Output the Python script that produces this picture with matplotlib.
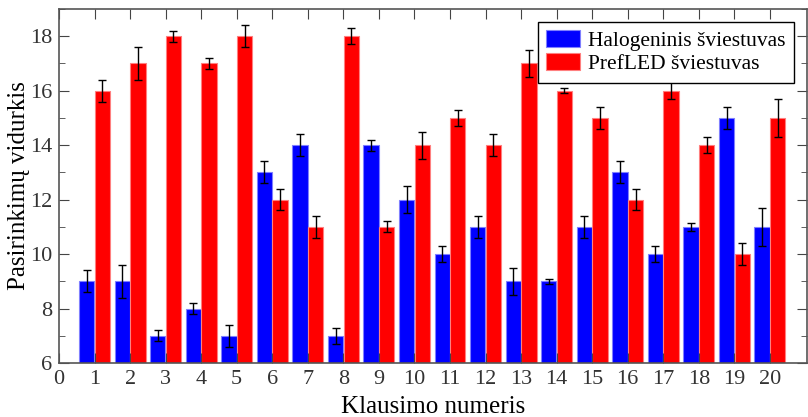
import numpy as np
import matplotlib
matplotlib.use("Agg")
import matplotlib.pyplot as plt
from matplotlib.ticker import MultipleLocator

questions = list(range(1, 21))
halogen = [9, 9, 7, 8, 7, 13, 14, 7, 14, 12, 10, 11, 9, 9, 11, 13, 10, 11, 15, 11]
halogen_err = [0.4, 0.6, 0.2, 0.2, 0.4, 0.4, 0.4, 0.3, 0.2, 0.5,
               0.3, 0.4, 0.5, 0.1, 0.4, 0.4, 0.3, 0.15, 0.4, 0.7]
prefled = [16, 17, 18, 17, 18, 12, 11, 18, 11, 14, 15, 14, 17, 16, 15, 12, 16, 14, 10, 15]
prefled_err = [0.4, 0.6, 0.2, 0.2, 0.4, 0.4, 0.4, 0.3, 0.2, 0.5,
               0.3, 0.4, 0.5, 0.1, 0.4, 0.4, 0.3, 0.3, 0.4, 0.7]

plt.rcParams["font.family"] = ["Liberation Serif", "DejaVu Serif"]

fig = plt.figure(figsize=(8.08, 4.17), dpi=100)
ax = fig.add_axes([0.073, 0.1295, 0.926, 0.849])

x = np.array(questions)
w = 0.43
off = 0.22
ekw = dict(ecolor="black", elinewidth=1, capsize=3, capthick=1)
ax.bar(x - off, halogen, w, color="#0000ff", edgecolor="#7f7fff",
       linewidth=0.8, yerr=halogen_err, error_kw=ekw,
       label="Halogeninis šviestuvas")
ax.bar(x + off, prefled, w, color="#ff0000", edgecolor="#ff7f7f",
       linewidth=0.8, yerr=prefled_err, error_kw=ekw,
       label="PrefLED šviestuvas")

ax.set_xlim(0, 21.05)
ax.set_ylim(6, 19)
ax.set_xticks(range(0, 21))
ax.yaxis.set_major_locator(MultipleLocator(2))
ax.yaxis.set_minor_locator(MultipleLocator(1))
ax.tick_params(which="both", direction="in", top=True, right=True,
               labelsize=16, color="#444444", labelcolor="#333333")
ax.tick_params(which="major", length=7, pad=5)
ax.tick_params(which="minor", length=4)
for s in ax.spines.values():
    s.set_color("#555555")
    s.set_linewidth(1.2)

ax.set_xlabel("Klausimo numeris", fontsize=18, labelpad=5)
ax.set_ylabel("Pasirinkimų vidurkis", fontsize=18, labelpad=0)

leg = ax.legend(loc="upper right", fontsize=15.5, fancybox=False,
                edgecolor="black", framealpha=1, handlelength=1.55,
                handleheight=0.8, handletextpad=0.4, borderpad=0.4,
                borderaxespad=0.6, labelspacing=0.1)
leg.get_frame().set_linewidth(1)

fig.savefig("out.png", dpi=100)
